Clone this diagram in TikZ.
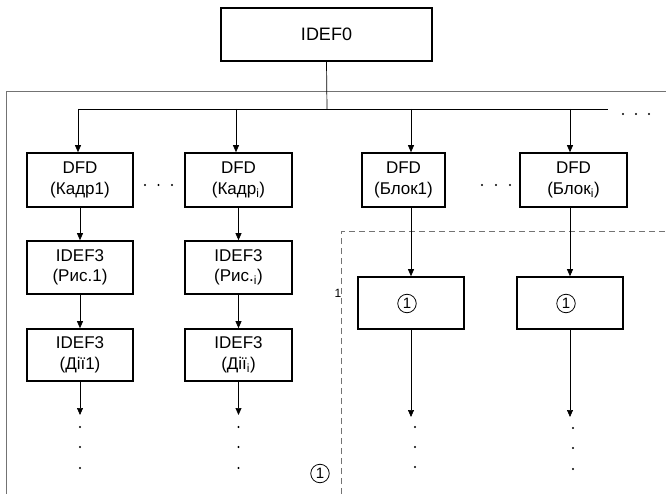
\documentclass[tikz,border=0pt]{standalone}
\usepackage{fontspec}
\setmainfont{Liberation Sans}
\usetikzlibrary{arrows.meta}
\tikzset{
  boxn/.style={draw, line width=1.6pt, rectangle, inner sep=0pt, align=center,
    font=\fontsize{17}{20.5}\selectfont},
  conn/.style={line width=0.7pt},
  arr/.style={line width=0.7pt, -{Triangle[width=6pt,length=7pt]}},
  frameline/.style={draw=black!55, line width=1pt},
  dashline/.style={draw=black!55, line width=1pt, dash pattern=on 6pt off 4pt},
  circnum/.style={draw, circle, line width=0.8pt, inner sep=0pt, minimum size=18.5pt,
    font=\fontsize{15}{15}\selectfont},
  dotfill/.style={fill=black}
}
\begin{document}
\begin{tikzpicture}[x=1pt,y=-1pt]
\useasboundingbox (0,0) rectangle (666,494);
% frame
\draw[frameline] (6,494) -- (6,92) -- (666,92);
\draw[dashline] (341,494) -- (341,232) -- (666,232);
% top box
\node[boxn, font=\fontsize{18}{20}\selectfont, minimum width=211pt, minimum height=53pt] (idef0) at (326.5,34.5) {IDEF0};
% distribution
\coordinate (hub) at (327,109);
\coordinate (p1) at (78,109);
\coordinate (p2) at (236,109);
\coordinate (p3) at (411,109);
\coordinate (p4) at (570,109);
\coordinate (pend) at (608,109);
\draw[conn] (idef0.south) -- (hub);
\draw[conn] (p1) -- (pend);
% row 1
\node[boxn, minimum width=106pt, minimum height=54pt] (k1) at (80,180) {DFD\\(Кадр1)};
\node[boxn, minimum width=107pt, minimum height=54pt] (k2) at (238.5,180) {DFD\\(Кадр\textsubscript{i})};
\node[boxn, minimum width=83pt, minimum height=54pt] (b1) at (403.5,180) {DFD\\(Блок1)};
\node[boxn, minimum width=107pt, minimum height=54pt] (b2) at (573.5,180) {DFD\\(Блок\textsubscript{i})};
\draw[arr] (p1) -- (p1 |- k1.north);
\draw[arr] (p2) -- (p2 |- k2.north);
\draw[arr] (p3) -- (p3 |- b1.north);
\draw[arr] (p4) -- (p4 |- b2.north);
% row 2
\node[boxn, minimum width=106pt, minimum height=53pt] (r1) at (80,267.5) {IDEF3\\(Рис.1)};
\node[boxn, minimum width=107pt, minimum height=53pt] (r2) at (238.5,267.5) {IDEF3\\(Рис.\textsubscript{i})};
\draw[arr] (k1.south) -- (r1.north);
\draw[arr] (k2.south) -- (r2.north);
% row 3
\node[boxn, minimum width=106pt, minimum height=52pt] (d1) at (80,355) {IDEF3\\(Дії1)};
\node[boxn, minimum width=107pt, minimum height=52pt] (d2) at (238.5,355) {IDEF3\\(Дії\textsubscript{i})};
\draw[arr] (r1.south) -- (d1.north);
\draw[arr] (r2.south) -- (d2.north);
% circle boxes
\node[boxn, minimum width=106pt, minimum height=52pt] (c1) at (411,303) {};
\node[boxn, minimum width=106pt, minimum height=52pt] (c2) at (570,303) {};
\node[circnum] (n1) at (407,303.5) {1};
\node[circnum] (n2) at (566,303.5) {1};
\draw[arr] (b1.south -| c1.north) -- (c1.north);
\draw[arr] (b2.south -| c2.north) -- (c2.north);
% free ends
\coordinate (e1) at (80,415);
\coordinate (e2) at (238.5,415);
\coordinate (e3) at (411,417);
\coordinate (e4) at (570,417);
\draw[arr] (d1.south) -- (e1);
\draw[arr] (d2.south) -- (e2);
\draw[arr] (c1.south) -- (e3);
\draw[arr] (c2.south) -- (e4);
% vertical dots
\foreach \y in {427,447,468} {
  \fill[dotfill] (80,\y) circle (1.1);
  \fill[dotfill] (238.5,\y) circle (1.1);
}
\foreach \y in {427,447,467} \fill[dotfill] (415,\y) circle (1.1);
\foreach \y in {428,448,469} \fill[dotfill] (573,\y) circle (1.1);
% horizontal dots
\foreach \x in {145,158.5,172} \fill[dotfill] (\x,185) circle (1.1);
\foreach \x in {482,496,510} \fill[dotfill] (\x,185) circle (1.1);
\foreach \x in {623,636,649} \fill[dotfill] (\x,114) circle (1.1);
% labels
\node[font=\fontsize{12}{12}\selectfont, inner sep=0pt] (one) at (338,293) {1};
\node[circnum] (n3) at (320,473.5) {1};
\end{tikzpicture}
\end{document}
